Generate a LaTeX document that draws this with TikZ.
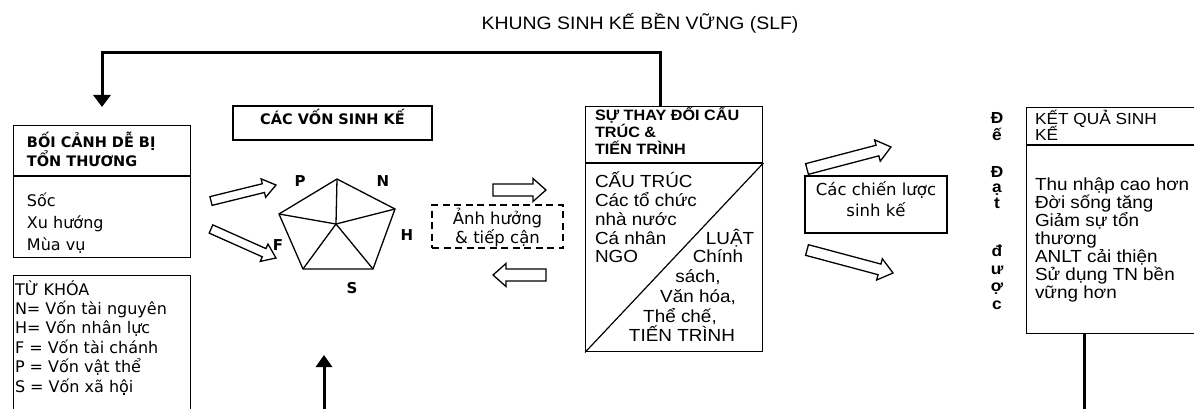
\documentclass[tikz,border=0pt]{standalone}
\usepackage{fontspec}
\setmainfont{Liberation Sans}[FakeStretch=1.08]
\newfontfamily\tah{DejaVu Sans}
\usetikzlibrary{calc,arrows.meta}
\newcommand{\fsz}[2]{\fontsize{#1}{#2}\selectfont}
% hollow block arrow: tail, tip, half shaft, half head, head length
\newcommand{\harrow}[5]{%
  \coordinate (hah) at ($(#2)!#5!(#1)$);
  \draw[hollow] ($(#1)!#3!-90:(#2)$) -- ($(hah)!#3!90:(#1)$) -- ($(hah)!#4!90:(#1)$) -- (#2)
     -- ($(hah)!#4!-90:(#1)$) -- ($(hah)!#3!-90:(#1)$) -- ($(#1)!#3!90:(#2)$) -- cycle;}
\begin{document}
\begin{tikzpicture}[x=1pt,y=-1pt,
  box/.style={draw, line width=1.4pt, inner sep=0pt, anchor=north west},
  hollow/.style={draw, line width=1.3pt, line join=miter, fill=white},
  fb/.style={line width=3pt},
  t/.style={inner sep=0pt, outer sep=0pt, anchor=base west},
  tc/.style={inner sep=0pt, outer sep=0pt, anchor=base},
  dv/.style={font=\tah\fsz{16}{19}},
  lab/.style={inner sep=0pt, font=\tah\bfseries\fsz{15}{17}},
]
\useasboundingbox (0,0) rectangle (1194,409);
\fill[white] (0,0) rectangle (1194,409);

% title
\node[tc, font=\fsz{18}{20}] (title) at (640,29.5) {KHUNG SINH KẾ BỀN VỮNG (SLF)};

% vulnerability context
\node[box, minimum width=177pt, minimum height=132pt] (ctx) at (13,125) {};
\coordinate (ctxdiv) at (0,176);
\draw[line width=1.4pt] (ctx.west |- ctxdiv) -- (ctx.east |- ctxdiv);
\node[t, font=\tah\bfseries\fsz{14.5}{17}] (ctxh1) at (27,148) {BỐI CẢNH DỄ BỊ};
\node[t, font=\tah\bfseries\fsz{14.5}{17}] (ctxh2) at (27,166) {TỔN THƯƠNG};
\node[t, dv] (ctx1) at (27,206) {Sốc};
\node[t, dv] (ctx2) at (27,228) {Xu hướng};
\node[t, dv] (ctx3) at (27,250) {Mùa vụ};

% key
\node[box, minimum width=177pt, minimum height=160pt] (key) at (13,275) {};
\node[t, dv] (k0) at (15,295) {TỪ KHÓA};
\node[t, dv] (k1) at (15,314.4) {N= Vốn tài nguyên};
\node[t, dv] (k2) at (15,333.8) {H= Vốn nhân lực};
\node[t, dv] (k3) at (15,353.2) {F = Vốn tài chánh};
\node[t, dv] (k4) at (15,372.6) {P = Vốn vật thể};
\node[t, dv] (k5) at (15,392) {S = Vốn xã hội};

% livelihood assets
\node[box, anchor=center, minimum width=199pt, minimum height=34pt] (cap) at (332.5,123) {};
\node[tc, font=\tah\bfseries\fsz{14.5}{17}] (capt) at (332.5,124.5) {CÁC VỐN SINH KẾ};

\coordinate (pT) at (337,179);
\coordinate (pR) at (395,209);
\coordinate (pBR) at (373,269);
\coordinate (pBL) at (303,269);
\coordinate (pL) at (279,214);
\coordinate (pC) at (336,224);
\draw[line width=1.3pt, line join=miter] (pT) -- (pR) -- (pBR) -- (pBL) -- (pL) -- cycle;
\foreach \v in {pT,pR,pBR,pBL,pL} \draw[line width=1.3pt] (pC) -- (\v);
\node[lab] (lP) at (300,181) {P};
\node[lab] (lN) at (383,181) {N};
\node[lab] (lH) at (407,235) {H};
\node[lab] (lF) at (278,245) {F};
\node[lab] (lS) at (352,288) {S};

% arrows into pentagon
\coordinate (a1s) at (211,201); \coordinate (a1e) at (276,185);
\coordinate (a2s) at (211,229); \coordinate (a2e) at (276,258);
\harrow{a1s}{a1e}{4.5pt}{9.5pt}{13pt}
\harrow{a2s}{a2e}{4.5pt}{9.5pt}{13pt}

% influence & access
\node[draw, line width=1.4pt, dash pattern=on 7pt off 4.5pt, minimum width=131pt, minimum height=43pt, inner sep=0pt] (acc) at (497.5,226.5) {};
\node[tc, font=\tah\fsz{16.5}{20}] (acc1) at (497.5,224) {Ảnh hưởng};
\node[tc, font=\tah\fsz{16.5}{20}] (acc2) at (497.5,243.5) {\& tiếp cận};
\coordinate (b1s) at (493,190); \coordinate (b1e) at (546,190);
\coordinate (b2s) at (546,275); \coordinate (b2e) at (493,275);
\harrow{b1s}{b1e}{6pt}{11.5pt}{13pt}
\harrow{b2s}{b2e}{6pt}{11.5pt}{13pt}

% transforming structures and processes
\node[box, minimum width=177pt, minimum height=245pt] (str) at (585,106) {};
\coordinate (strdiv) at (0,163);
\draw[line width=1.4pt] (str.west |- strdiv) -- (str.east |- strdiv);
\draw[line width=1.2pt] (str.south west) -- (str.east |- strdiv);
\node[t, font=\bfseries\fsz{15}{17}] (sh1) at (595,121) {SỰ THAY ĐỔI CẤU};
\node[t, font=\bfseries\fsz{15}{17}] (sh2) at (595,138) {TRÚC \&};
\node[t, font=\bfseries\fsz{15}{17}] (sh3) at (595,154.5) {TIẾN TRÌNH};
\node[t, font=\fsz{17.5}{19}] (s1) at (595,187) {CẤU TRÚC};
\node[t, font=\fsz{17.5}{19}] (s2) at (595,206) {Các tổ chức};
\node[t, font=\fsz{17.5}{19}] (s3) at (595,225) {nhà nước};
\node[t, font=\fsz{17.5}{19}] (s4) at (595,244) {Cá nhân};
\node[t, font=\fsz{17.5}{19}] (s5) at (595,262.5) {NGO};
\node[tc, font=\fsz{17.5}{19}] (r1) at (730,244) {LUẬT};
\node[tc, font=\fsz{17.5}{19}] (r2) at (718,262.5) {Chính};
\node[tc, font=\fsz{17.5}{19}] (r3) at (698,282) {sách,};
\node[tc, font=\fsz{17.5}{19}] (r4) at (698,302.5) {Văn hóa,};
\node[tc, font=\fsz{17.5}{19}] (r5) at (680,322) {Thể chế,};
\node[tc, font=\fsz{17.5}{19}] (r6) at (682,341) {TIẾN TRÌNH};

% strategies
\coordinate (c1s) at (807,169); \coordinate (c1e) at (891,147);
\coordinate (c2s) at (807,250); \coordinate (c2e) at (893,273);
\harrow{c1s}{c1e}{5.5pt}{11pt}{14pt}
\harrow{c2s}{c2e}{5.5pt}{11pt}{14pt}
\node[box, anchor=center, minimum width=142pt, minimum height=57pt] (strat) at (876,204.5) {};
\node[tc, font=\tah\fsz{16.5}{20}] (strat1) at (876,195) {Các chiến lược};
\node[tc, font=\tah\fsz{16.5}{20}] (strat2) at (876,216) {sinh kế};

% vertical "Để Đạt được"
\foreach \ch/\yy [count=\i] in {Đ/124,ế/141,Đ/177,ạ/193,t/208,đ/256,ư/274,ợ/291,c/309}
  \node[tc, font=\bfseries\fsz{16}{16}] (v\i) at (997,\yy) {\ch};

% outcomes
\node[box, minimum width=180pt, minimum height=226pt] (res) at (1026,107) {};
\coordinate (resdiv) at (0,145);
\draw[line width=1.4pt] (res.west |- resdiv) -- (res.east |- resdiv);
\node[t, font=\fsz{16}{17}] (rh1) at (1035,125) {KẾT QUẢ SINH};
\node[t, font=\fsz{16}{17}] (rh2) at (1035,140.5) {KẾ};
\foreach \tx/\yy [count=\i] in {Thu nhập cao hơn/190, Đời sống tăng/208, Giảm sự tổn/226, thương/244, ANLT cải thiện/262, Sử dụng TN bền/280, vững hơn/298}
  \node[t, font=\fsz{17.5}{19}] (ro\i) at (1035,\yy) {\tx};

% feedback connectors
\coordinate (topx) at (660,0);
\coordinate (topy) at (0,53);
\coordinate (ctxin) at (102,107);
\draw[fb, line join=miter, -{Triangle[length=12pt,width=17pt]}]
  (str.north -| topx) -- (topx |- topy) -- (ctxin |- topy) -- (ctxin);
\coordinate (resx) at (1084,0);
\coordinate (loopR) at (1084,412);
\draw[fb] (res.south -| resx) -- (loopR);
\coordinate (loopL) at (324,412);
\coordinate (capin) at (324,355);
\draw[fb, -{Triangle[length=12pt,width=16pt]}] (loopL) -- (capin);
\end{tikzpicture}
\end{document}
